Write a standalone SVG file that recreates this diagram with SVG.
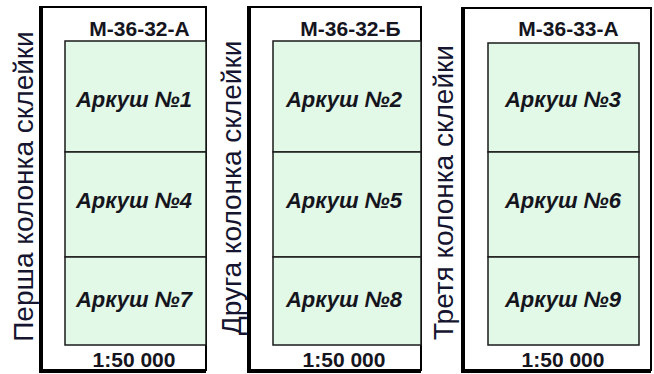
<svg xmlns="http://www.w3.org/2000/svg" width="654" height="374" viewBox="0 0 654 374">
<style>
.frame{fill:#fff;stroke:#000;stroke-width:2}
.shadow{stroke:#000;stroke-width:4;fill:none}
.cell{fill:#e2f9e7;stroke:#1a1a1a;stroke-width:1.5}
.title{font-family:"Liberation Sans",Arial,sans-serif;font-weight:bold;font-size:21px;fill:#151520;text-anchor:middle}
.sheet{font-family:"Liberation Sans",Arial,sans-serif;font-weight:bold;font-style:italic;font-size:22px;fill:#151520;text-anchor:middle}
.col{font-family:"Liberation Sans",Arial,sans-serif;font-size:28px;fill:#151530;text-anchor:middle}
</style>
<rect width="654" height="374" fill="#fff"/>
<g id="panel1">
<rect class="frame" x="41" y="7" width="165" height="363"/>
<path class="shadow" d="M41,6 V371 H206"/>
<rect class="cell" x="65" y="41" width="141" height="111"/>
<rect class="cell" x="65" y="152" width="141" height="105"/>
<rect class="cell" x="65" y="257" width="141" height="88"/>
<text class="title" x="139.5" y="36">М-36-32-А</text>
<text class="sheet" x="134" y="107">Аркуш №1</text>
<text class="sheet" x="134" y="208">Аркуш №4</text>
<text class="sheet" x="134" y="307">Аркуш №7</text>
<text class="title" x="134" y="367">1:50 000</text>
<text class="col" transform="translate(33,186.5) rotate(-90)">Перша колонка склейки</text>
</g>
<g id="panel2">
<rect class="frame" x="249" y="7" width="172" height="363"/>
<path class="shadow" d="M249,6 V371 H421"/>
<rect class="cell" x="273" y="41" width="148" height="111"/>
<rect class="cell" x="273" y="152" width="148" height="105"/>
<rect class="cell" x="273" y="257" width="148" height="88"/>
<text class="title" x="350.5" y="36">М-36-32-Б</text>
<text class="sheet" x="344" y="107">Аркуш №2</text>
<text class="sheet" x="344" y="208">Аркуш №5</text>
<text class="sheet" x="344" y="307">Аркуш №8</text>
<text class="title" x="344" y="367">1:50 000</text>
<text class="col" transform="translate(241,188) rotate(-90)">Друга колонка склейки</text>
</g>
<g id="panel3">
<rect class="frame" x="463" y="8" width="188" height="362"/>
<path class="shadow" d="M463,7 V371 H651"/>
<rect class="cell" x="488" y="43" width="151" height="109"/>
<rect class="cell" x="488" y="152" width="151" height="105"/>
<rect class="cell" x="488" y="257" width="151" height="88"/>
<text class="title" x="568.5" y="36">М-36-33-А</text>
<text class="sheet" x="563" y="107">Аркуш №3</text>
<text class="sheet" x="563" y="208">Аркуш №6</text>
<text class="sheet" x="563" y="307">Аркуш №9</text>
<text class="title" x="563" y="367">1:50 000</text>
<text class="col" transform="translate(453,192.5) rotate(-90)">Третя колонка склейки</text>
</g>
</svg>
